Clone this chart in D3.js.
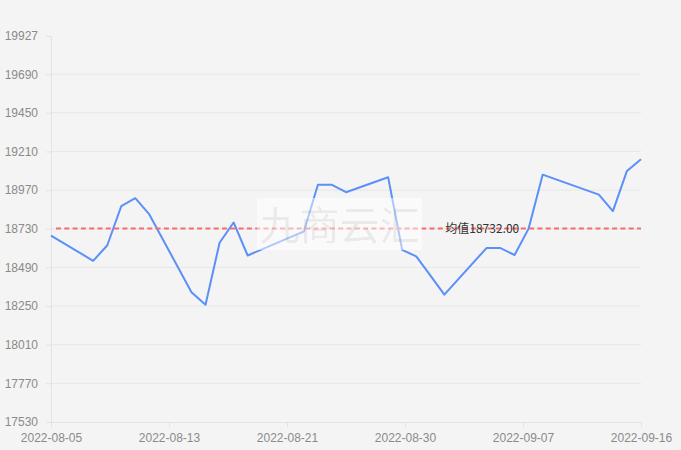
<!DOCTYPE html>
<html>
<head>
<meta charset="utf-8">
<script src="https://cdn.jsdelivr.net/npm/d3@7/dist/d3.min.js"></script>
<style>
  html, body { margin: 0; padding: 0; background: #f4f4f4; }
  svg { display: block; font-family: "Noto Sans CJK SC", "Noto Sans", sans-serif; }
</style>
</head>
<body>
<svg id="chart" width="681" height="450"></svg>
<script>
const dates = ["2022-08-05","2022-08-08","2022-08-09","2022-08-10","2022-08-11","2022-08-12",
  "2022-08-15","2022-08-16","2022-08-17","2022-08-18","2022-08-19","2022-08-22","2022-08-23",
  "2022-08-24","2022-08-25","2022-08-26","2022-08-29","2022-08-30","2022-08-31","2022-09-01",
  "2022-09-02","2022-09-05","2022-09-06","2022-09-07","2022-09-08","2022-09-09","2022-09-13",
  "2022-09-14","2022-09-15","2022-09-16"];
const values = [18688,18531,18626,18870,18920,18819,18336,18258,18643,18769,18564,18676,18713,
  19003,19003,18957,19050,18599,18558,18440,18321,18610,18610,18567,18731,19066,18942,18840,
  19089,19161];
const yTicks = [17530,17770,18010,18250,18490,18730,18970,19210,19450,19690,19927];
const xTickCount = 5;
const avgLabelPrefix = "均值";
const watermarkText = "九商云汇";

const W = 681, H = 450;
const m = { left: 51, right: 40, top: 36, bottom: 28 };
const svg = d3.select("#chart");
svg.append("rect").attr("width", W).attr("height", H).attr("fill", "#f4f4f4");

const parse = d3.timeParse("%Y-%m-%d");
const data = dates.map((d, i) => ({ date: parse(d), value: values[i] }));

const x = d3.scaleTime()
  .domain(d3.extent(data, d => d.date))
  .range([m.left, W - m.right]);
const y = d3.scaleLinear()
  .domain([yTicks[0], yTicks[yTicks.length - 1]])
  .range([H - m.bottom, m.top]);

// grid lines
const gridTicks = yTicks.slice(1, -1);
svg.append("g").selectAll("line").data(gridTicks).join("line")
  .attr("x1", m.left).attr("x2", W - m.right)
  .attr("y1", d => y(d)).attr("y2", d => y(d))
  .attr("stroke", "#e7e7e7").attr("stroke-width", 1);

// y axis
const yAxis = d3.axisLeft(y).tickValues(yTicks).tickSize(5).tickPadding(8).tickFormat(d3.format("d"));
const gy = svg.append("g").attr("transform", `translate(${m.left},0)`).call(yAxis);
gy.select(".domain").attr("stroke", "#e3e3e3");
gy.selectAll(".tick line").attr("stroke", "#e3e3e3");
gy.selectAll(".tick text").attr("fill", "#8a8a8a").attr("font-size", 12);

// x axis: evenly split time ticks
const [d0, d1] = x.domain();
const xTickVals = d3.range(xTickCount + 1).map(i => new Date(+d0 + (d1 - d0) * i / xTickCount));
const xAxis = d3.axisBottom(x).tickValues(xTickVals).tickSize(5).tickPadding(6)
  .tickFormat(d3.timeFormat("%Y-%m-%d"));
const gx = svg.append("g").attr("transform", `translate(0,${H - m.bottom})`).call(xAxis);
gx.select(".domain").attr("stroke", "#e3e3e3");
gx.selectAll(".tick line").attr("stroke", "#e3e3e3");
gx.selectAll(".tick text").attr("fill", "#8a8a8a").attr("font-size", 12);

// line
const line = d3.line().x(d => x(d.date)).y(d => y(d.value));
svg.append("path").datum(data)
  .attr("d", line).attr("fill", "none")
  .attr("stroke", "#5b8ff9").attr("stroke-width", 2).attr("stroke-linejoin", "round");

// average line
const avg = d3.mean(values);
svg.append("line")
  .attr("x1", m.left + 5).attr("x2", W - m.right)
  .attr("y1", y(avg)).attr("y2", y(avg))
  .attr("stroke", "#f56c6c").attr("stroke-width", 2)
  .attr("stroke-dasharray", "5,3.3");
svg.append("text")
  .attr("x", m.left + (W - m.right - m.left) * 0.731)
  .attr("y", y(avg) + 5)
  .attr("text-anchor", "middle")
  .attr("fill", "#333").attr("font-size", 12)
  .text(avgLabelPrefix + avg.toFixed(2));

// watermark
const wm = svg.append("g");
wm.append("rect").attr("x", 257).attr("y", 198).attr("width", 165).attr("height", 52)
  .attr("fill", "#ffffff").attr("opacity", 0.5);
wm.append("text").attr("x", 339.5).attr("y", 240)
  .attr("text-anchor", "middle").attr("font-size", 40)
  .attr("fill", "#000").attr("fill-opacity", 0.08)
  .text(watermarkText);
</script>
</body>
</html>
